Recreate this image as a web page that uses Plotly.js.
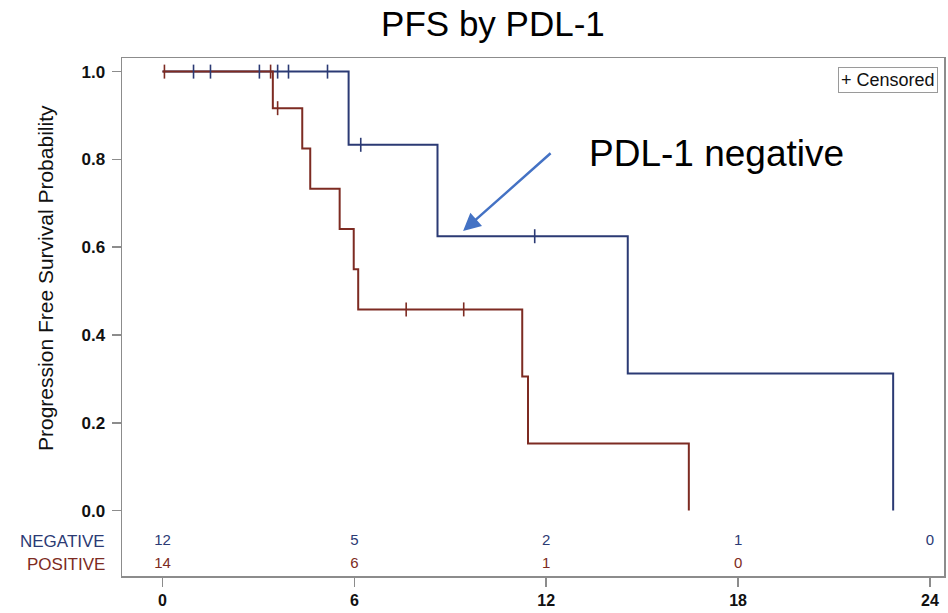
<!DOCTYPE html>
<html>
<head>
<meta charset="utf-8">
<script src="https://cdn.plot.ly/plotly-3.0.1.min.js"></script>
<style>html,body{margin:0;padding:0;background:#fff;}#chart{width:948px;height:613px;}</style>
</head>
<body>
<div id="chart"></div>
<script>
// Kaplan-Meier step data (months, survival probability)
const negTimes = [0, 5.82, 8.6, 14.55, 22.85];
const negSurv  = [1, 0.8333, 0.625, 0.3125, 0];
const posTimes = [0, 3.45, 4.37, 4.62, 5.54, 5.98, 6.12, 11.25, 11.43, 16.46];
const posSurv  = [1, 0.9167, 0.825, 0.7333, 0.6417, 0.55, 0.4583, 0.3056, 0.1528, 0];

// Censored observations
const negCensT = [0.97, 1.5, 3.03, 3.6, 3.94, 5.16, 6.2, 11.64];
const negCensS = [1, 1, 1, 1, 1, 1, 0.8333, 0.625];
const posCensT = [0.06, 3.38, 3.6, 7.62, 9.42];
const posCensS = [1, 1, 0.9167, 0.4583, 0.4583];

// Number at risk
const riskTimes = [0, 6, 12, 18, 24];
const negRisk = [12, 5, 2, 1, 0];
const posRisk = [14, 6, 1, 0];
const groupLabels = ['NEGATIVE', 'POSITIVE'];

const xTicks = [0, 6, 12, 18, 24];
const yTicks = [0, 0.2, 0.4, 0.6, 0.8, 1.0];
const yTickText = ['0.0', '0.2', '0.4', '0.6', '0.8', '1.0'];

const NEG = '#2b3a74';
const POS = '#7d2b22';
const sans = '"Liberation Sans", Arial, sans-serif';

const traces = [
  {x: negTimes, y: negSurv, mode: 'lines', line: {shape: 'hv', color: NEG, width: 2}, hoverinfo: 'skip'},
  {x: posTimes, y: posSurv, mode: 'lines', line: {shape: 'hv', color: POS, width: 2}, hoverinfo: 'skip'},
  {x: negCensT, y: negCensS, mode: 'markers', marker: {symbol: 'line-ns', size: 10, line: {color: NEG, width: 1.6}}},
  {x: posCensT, y: posCensS, mode: 'markers', marker: {symbol: 'line-ns', size: 10, line: {color: POS, width: 1.6}}},
  {x: riskTimes, y: riskTimes.map(() => -0.0696), mode: 'text', text: negRisk.map(String),
   textfont: {family: sans, size: 15, color: NEG}, textposition: 'middle center'},
  {x: riskTimes.slice(0, posRisk.length), y: posRisk.map(() => -0.122), mode: 'text', text: posRisk.map(String),
   textfont: {family: sans, size: 15, color: POS}, textposition: 'middle center'}
];

const layout = {
  width: 948, height: 613,
  margin: {l: 122, r: 4, t: 58, b: 37},
  paper_bgcolor: '#fff', plot_bgcolor: '#fff',
  showlegend: false,
  title: {text: 'PFS by PDL-1', x: 0.52, xanchor: 'center', y: 0.962, yanchor: 'middle',
          font: {family: sans, size: 35, color: '#000'}},
  xaxis: {
    range: [-1.267, 24.44], tickvals: xTicks, ticktext: xTicks.map(String),
    showgrid: false, zeroline: false, showline: true, mirror: true, linecolor: '#8c8c8c', linewidth: 1.5,
    ticks: 'outside', ticklen: 9, tickwidth: 1.5, tickcolor: '#8c8c8c', ticklabelstandoff: 0,
    tickfont: {family: sans, size: 16, color: '#111', weight: 'bold'}
  },
  yaxis: {
    range: [-0.149, 1.031], tickvals: yTicks, ticktext: yTickText,
    showgrid: false, zeroline: false, showline: true, mirror: true, linecolor: '#8c8c8c', linewidth: 1.5,
    ticks: 'outside', ticklen: 9, tickwidth: 1.5, tickcolor: '#8c8c8c', ticklabelstandoff: 3,
    tickfont: {family: sans, size: 17, color: '#111', weight: 'bold'}
  },
  annotations: [
    {text: 'Progression Free Survival Probability', textangle: -90, xref: 'paper', yref: 'paper',
     x: (45 - 122) / 822, y: (576 - 278) / 518, xanchor: 'center', yanchor: 'middle', showarrow: false,
     font: {family: sans, size: 21, color: '#111'}},
    {text: 'PDL-1 negative', xref: 'paper', yref: 'paper', x: (716 - 122) / 822, y: (576 - 153) / 518,
     xanchor: 'center', yanchor: 'middle', showarrow: false,
     font: {family: sans, size: 37, color: '#000'}},
    {text: '', xref: 'x', yref: 'y', x: 9.4, y: 0.637, ax: 555 - 466, ay: 153 - 232, axref: 'pixel', ayref: 'pixel',
     showarrow: true, arrowhead: 2, arrowsize: 1.4, arrowwidth: 2.5, arrowcolor: '#4472c4'},
    {text: '+ Censored', xref: 'paper', yref: 'paper', x: (938 - 122) / 822, y: (576 - 67) / 518,
     xanchor: 'right', yanchor: 'top', showarrow: false, bordercolor: '#9a9a9a', borderwidth: 1, borderpad: 2,
     bgcolor: '#fff', font: {family: sans, size: 18, color: '#111'}},
    {text: groupLabels[0], xref: 'paper', yref: 'y', x: (107 - 122) / 822, y: -0.0696, xanchor: 'right', yanchor: 'middle',
     showarrow: false, font: {family: sans, size: 17, color: NEG}},
    {text: groupLabels[1], xref: 'paper', yref: 'y', x: (107 - 122) / 822, y: -0.122, xanchor: 'right', yanchor: 'middle',
     showarrow: false, font: {family: sans, size: 17, color: POS}}
  ]
};

Plotly.newPlot('chart', traces, layout, {displayModeBar: false, staticPlot: true});
</script>
</body>
</html>
